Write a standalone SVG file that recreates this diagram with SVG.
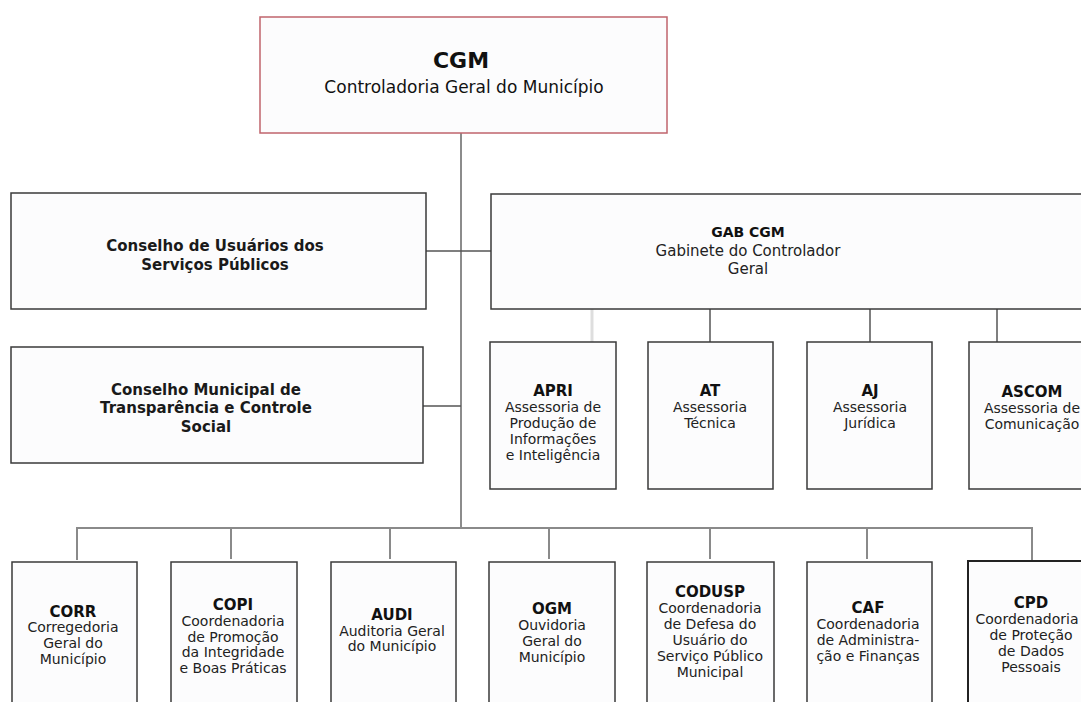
<svg xmlns="http://www.w3.org/2000/svg" width="1081" height="702" viewBox="0 0 1081 702">
<style>
.box{fill:#fcfcfd;stroke:#3a3a3a;stroke-width:1.5}
.cgm{fill:#fcfcfd;stroke:#c0646c;stroke-width:1.5}
.h{font-family:"DejaVu Sans",sans-serif;font-weight:bold;font-size:15px;fill:#111;text-anchor:middle}
.t{font-family:"DejaVu Sans",sans-serif;font-size:14px;fill:#222;text-anchor:middle}
.cb{font-family:"DejaVu Sans",sans-serif;font-weight:bold;font-size:15px;fill:#1a1a1a;text-anchor:middle}
.main{stroke:#8c8c8c;stroke-width:2;fill:none}
.dk{stroke:#555;stroke-width:1.5;fill:none}
.lt{stroke:#dedede;stroke-width:3;fill:none}
.bus{stroke:#8a8a8a;stroke-width:2;fill:none}
</style>
<rect width="1081" height="702" fill="#ffffff"/>
<g id="connectors">
  <line class="main" x1="461" y1="133" x2="461" y2="528"/>
  <line class="dk" x1="426" y1="251" x2="491" y2="251"/>
  <line class="dk" x1="423" y1="406" x2="461" y2="406"/>
  <line class="lt" x1="592" y1="309" x2="592" y2="342"/>
  <line class="dk" x1="710" y1="309" x2="710" y2="342"/>
  <line class="dk" x1="870" y1="309" x2="870" y2="342"/>
  <line class="dk" x1="997" y1="309" x2="997" y2="342"/>
  <polyline class="bus" points="77,560 77,528 1032,528 1032,561"/>
  <line class="bus" x1="231" y1="528" x2="231" y2="559"/>
  <line class="bus" x1="390" y1="528" x2="390" y2="559"/>
  <line class="bus" x1="549" y1="528" x2="549" y2="559"/>
  <line class="bus" x1="710" y1="528" x2="710" y2="559"/>
  <line class="bus" x1="867" y1="528" x2="867" y2="559"/>
</g>
<g id="cgm">
  <rect class="cgm" x="260" y="17" width="407" height="116"/>
  <text x="461" y="68" font-family="DejaVu Sans,sans-serif" font-weight="bold" font-size="22" fill="#111" text-anchor="middle">CGM</text>
  <text x="464" y="93" font-family="DejaVu Sans,sans-serif" font-size="17" fill="#111" text-anchor="middle">Controladoria Geral do Município</text>
</g>
<g id="conselho-usuarios">
  <rect class="box" x="11" y="193" width="415" height="116"/>
  <text class="cb" x="215" y="251">Conselho de Usuários dos</text>
  <text class="cb" x="215" y="270">Serviços Públicos</text>
</g>
<g id="conselho-transparencia">
  <rect class="box" x="11" y="347" width="412" height="116"/>
  <text class="cb" x="206" y="395">Conselho Municipal de</text>
  <text class="cb" x="206" y="413">Transparência e Controle</text>
  <text class="cb" x="206" y="432">Social</text>
</g>
<g id="gab">
  <rect class="box" x="491" y="194" width="620" height="115"/>
  <text x="748" y="237" font-family="DejaVu Sans,sans-serif" font-weight="bold" font-size="14" fill="#111" text-anchor="middle">GAB CGM</text>
  <text x="748" y="256" font-family="DejaVu Sans,sans-serif" font-size="15" fill="#222" text-anchor="middle">Gabinete do Controlador</text>
  <text x="748" y="274" font-family="DejaVu Sans,sans-serif" font-size="15" fill="#222" text-anchor="middle">Geral</text>
</g>
<g id="apri">
  <rect class="box" x="490" y="342" width="126" height="147"/>
  <text class="h" x="553" y="396">APRI</text>
  <text class="t" x="553" y="412">Assessoria de</text>
  <text class="t" x="553" y="428">Produção de</text>
  <text class="t" x="553" y="444">Informações</text>
  <text class="t" x="553" y="460">e Inteligência</text>
</g>
<g id="at">
  <rect class="box" x="648" y="342" width="125" height="147"/>
  <text class="h" x="710" y="396">AT</text>
  <text class="t" x="710" y="412">Assessoria</text>
  <text class="t" x="710" y="428">Técnica</text>
</g>
<g id="aj">
  <rect class="box" x="807" y="342" width="125" height="147"/>
  <text class="h" x="870" y="396">AJ</text>
  <text class="t" x="870" y="412">Assessoria</text>
  <text class="t" x="870" y="428">Jurídica</text>
</g>
<g id="ascom">
  <rect class="box" x="969" y="342" width="125" height="147"/>
  <text class="h" x="1032" y="397">ASCOM</text>
  <text class="t" x="1032" y="413">Assessoria de</text>
  <text class="t" x="1032" y="429">Comunicação</text>
</g>
<g id="corr">
  <rect class="box" x="12" y="562" width="125" height="150"/>
  <text class="h" x="73" y="617">CORR</text>
  <text class="t" x="73" y="632">Corregedoria</text>
  <text class="t" x="73" y="648">Geral do</text>
  <text class="t" x="73" y="664">Município</text>
</g>
<g id="copi">
  <rect class="box" x="171" y="562" width="126" height="150"/>
  <text class="h" x="233" y="610">COPI</text>
  <text class="t" x="233" y="626">Coordenadoria</text>
  <text class="t" x="233" y="642">de Promoção</text>
  <text class="t" x="233" y="657">da Integridade</text>
  <text class="t" x="233" y="673">e Boas Práticas</text>
</g>
<g id="audi">
  <rect class="box" x="331" y="562" width="125" height="150"/>
  <text class="h" x="392" y="620">AUDI</text>
  <text class="t" x="392" y="636">Auditoria Geral</text>
  <text class="t" x="392" y="651">do Município</text>
</g>
<g id="ogm">
  <rect class="box" x="489" y="562" width="126" height="150"/>
  <text class="h" x="552" y="614">OGM</text>
  <text class="t" x="552" y="630">Ouvidoria</text>
  <text class="t" x="552" y="646">Geral do</text>
  <text class="t" x="552" y="662">Município</text>
</g>
<g id="codusp">
  <rect class="box" x="647" y="562" width="127" height="150"/>
  <text class="h" x="710" y="597">CODUSP</text>
  <text class="t" x="710" y="613">Coordenadoria</text>
  <text class="t" x="710" y="629">de Defesa do</text>
  <text class="t" x="710" y="645">Usuário do</text>
  <text class="t" x="710" y="661">Serviço Público</text>
  <text class="t" x="710" y="677">Municipal</text>
</g>
<g id="caf">
  <rect class="box" x="807" y="562" width="125" height="150"/>
  <text class="h" x="868" y="613">CAF</text>
  <text class="t" x="868" y="629">Coordenadoria</text>
  <text class="t" x="868" y="645">de Administra-</text>
  <text class="t" x="868" y="661">ção e Finanças</text>
</g>
<g id="cpd">
  <rect class="box" x="968" y="561" width="126" height="150" style="stroke:#222;stroke-width:2"/>
  <text class="h" x="1031" y="608">CPD</text>
  <text class="t" x="1027" y="624">Coordenadoria</text>
  <text class="t" x="1031" y="640">de Proteção</text>
  <text class="t" x="1031" y="656">de Dados</text>
  <text class="t" x="1031" y="672">Pessoais</text>
</g>
</svg>
